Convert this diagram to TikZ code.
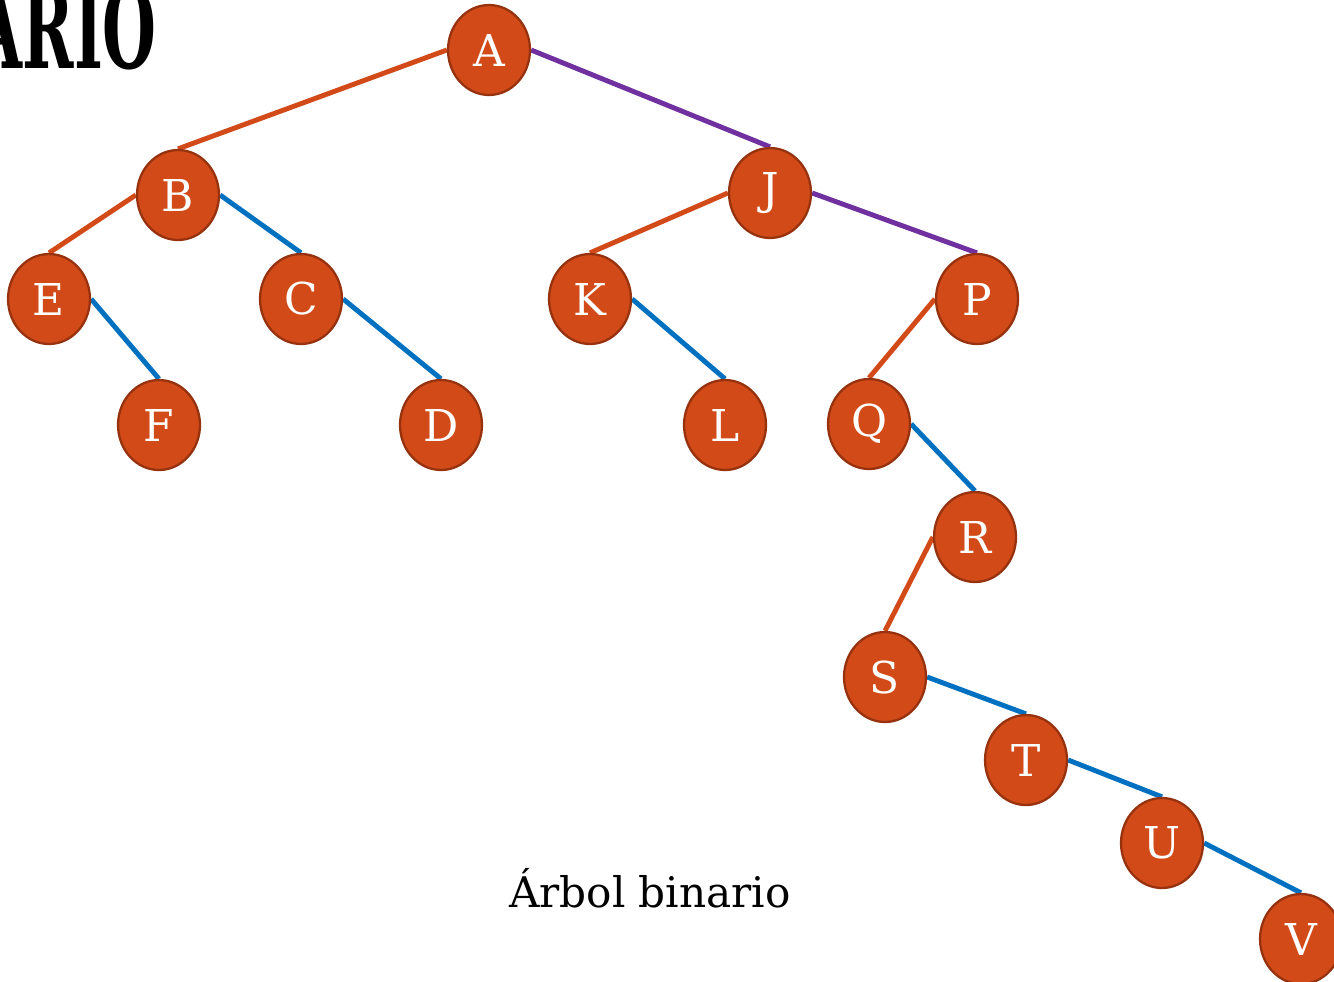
\documentclass[tikz,border=0pt]{standalone}
\usepackage{fontspec}
\setmainfont{DejaVu Serif}
\usetikzlibrary{shapes.geometric,backgrounds}

\definecolor{nodefill}{RGB}{210,74,24}
\definecolor{nodeline}{RGB}{150,50,14}
\definecolor{leftcol}{RGB}{210,74,24}
\definecolor{rightcol}{RGB}{0,112,192}
\definecolor{rootcol}{RGB}{112,48,160}

\tikzset{
    vertex/.style={ellipse, fill=nodefill, draw=nodeline, line width=1.3pt,
        minimum width=1.64cm, minimum height=1.8cm, inner sep=0pt,
        text=white, font=\fontsize{25}{25}\selectfont},
    leftedge/.style={draw=leftcol, line width=2.8pt},
    rightedge/.style={draw=rightcol, line width=2.8pt},
    rootedge/.style={draw=rootcol, line width=2.8pt}
}

\begin{document}
\begin{tikzpicture}[x=0.02cm, y=-0.02cm]
    \useasboundingbox (0,0) rectangle (1334,981);
    \clip (0,0) rectangle (1334,981);

    % title remnant
    \node[anchor=base east, inner sep=0pt, xscale=0.55,
        font=\fontsize{64}{64}\bfseries\selectfont] (title) at (157,68) {ARIO};

    % nodes
    \node[vertex] (A) at (489,50) {A};
    \node[vertex] (B) at (178,195) {B};
    \node[vertex] (J) at (770,193) {J};
    \node[vertex] (E) at (49,299) {E};
    \node[vertex] (C) at (301,299) {C};
    \node[vertex] (K) at (590,299) {K};
    \node[vertex] (P) at (977,299) {P};
    \node[vertex] (F) at (159,425) {F};
    \node[vertex] (D) at (441,425) {D};
    \node[vertex] (L) at (725,425) {L};
    \node[vertex] (Q) at (869,424) {Q};
    \node[vertex] (R) at (975,537) {R};
    \node[vertex] (S) at (885,677) {S};
    \node[vertex] (T) at (1026,760) {T};
    \node[vertex] (U) at (1162,843) {U};
    \node[vertex] (V) at (1301,939) {V};

    \node[font=\fontsize{24}{24}\selectfont, anchor=base] (caption) at (650,907) {Árbol binario};

    % edges
    \begin{scope}[on background layer]
        \draw[leftedge] (A.west) -- (B.north);
        \draw[rootedge] (A.east) -- (J.north);
        \draw[leftedge] (B.west) -- (E.north);
        \draw[rightedge] (B.east) -- (C.north);
        \draw[rightedge] (E.east) -- (F.north);
        \draw[rightedge] (C.east) -- (D.north);
        \draw[leftedge] (J.west) -- (K.north);
        \draw[rootedge] (J.east) -- (P.north);
        \draw[rightedge] (K.east) -- (L.north);
        \draw[leftedge] (P.west) -- (Q.north);
        \draw[rightedge] (Q.east) -- (R.north);
        \draw[leftedge] (R.west) -- (S.north);
        \draw[rightedge] (S.east) -- (T.north);
        \draw[rightedge] (T.east) -- (U.north);
        \draw[rightedge] (U.east) -- (V.north);
    \end{scope}
\end{tikzpicture}
\end{document}
